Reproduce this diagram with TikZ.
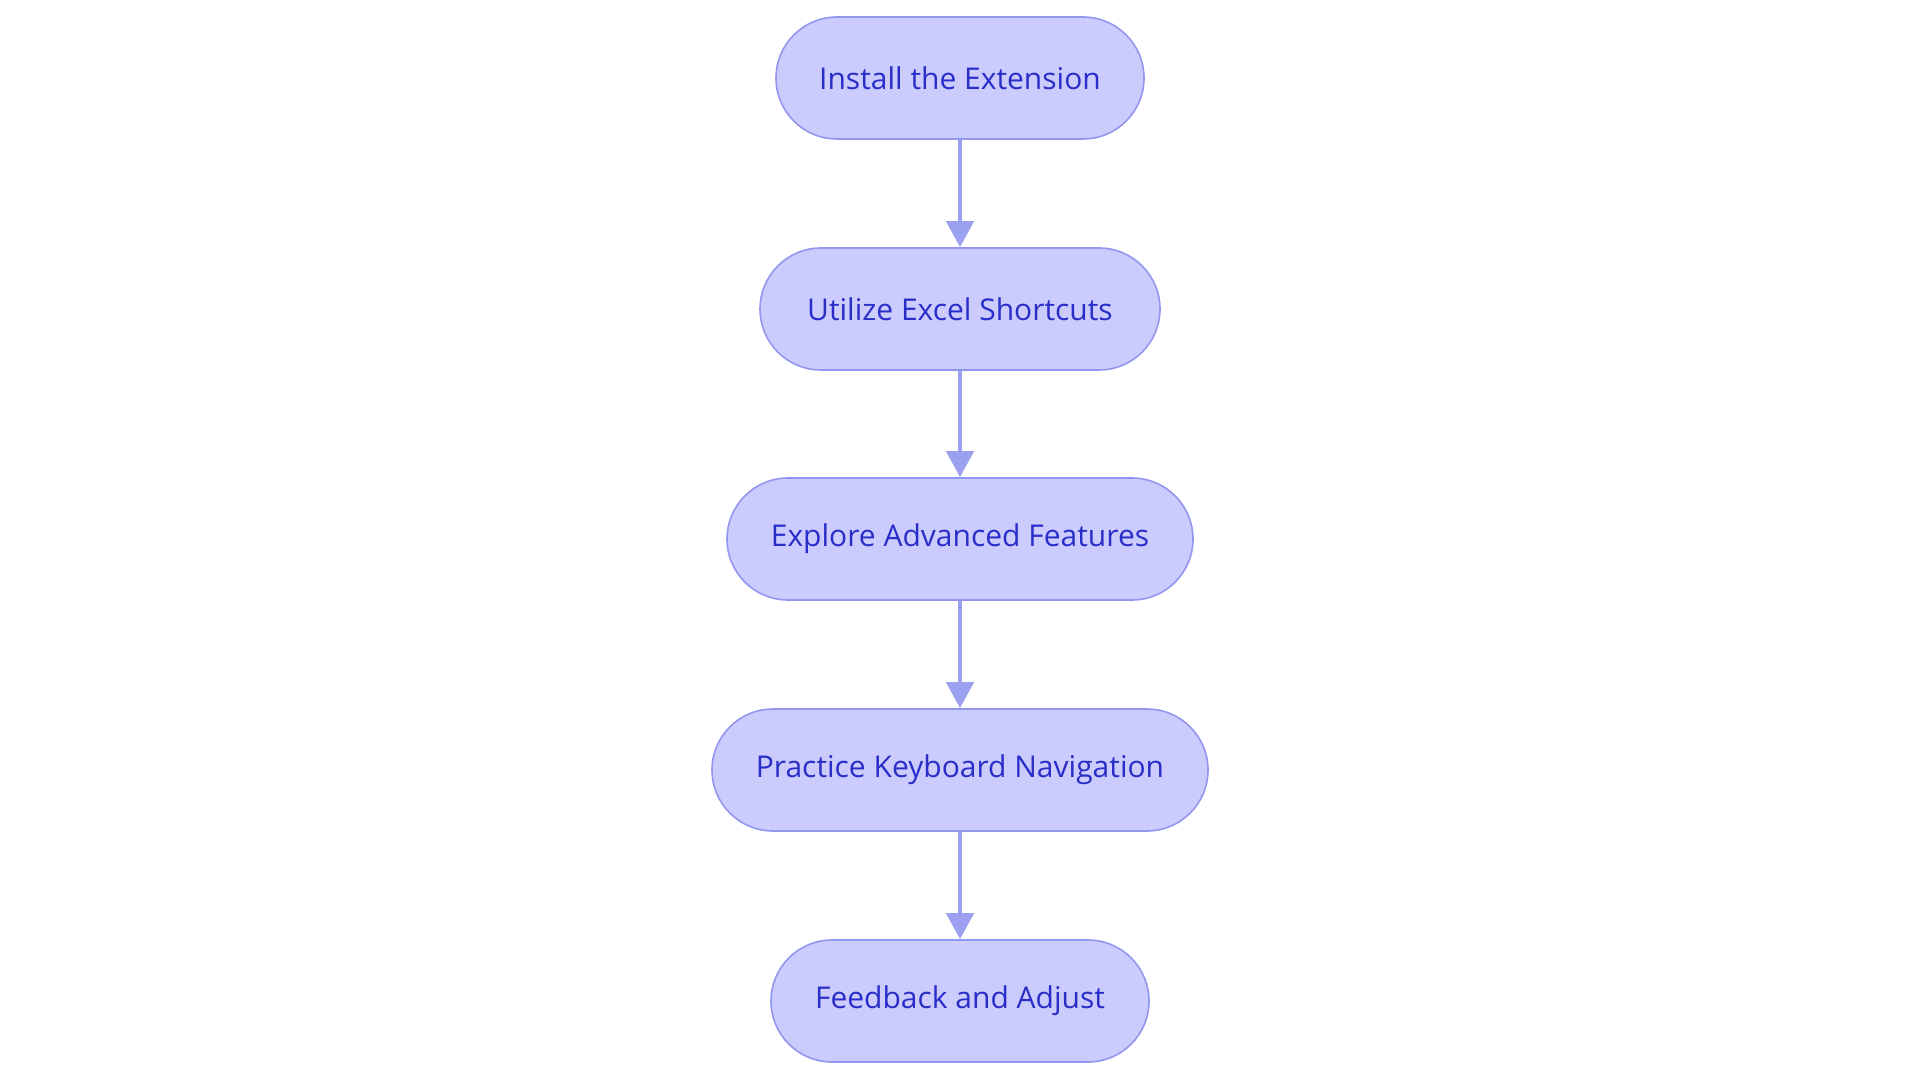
\documentclass[tikz,border=0pt]{standalone}
\usepackage{fontspec}
\setmainfont{Open Sans}
\usetikzlibrary{arrows.meta}
\definecolor{nodefill}{RGB}{203,203,253}
\definecolor{nodeedge}{RGB}{147,150,238}
\definecolor{nodetext}{RGB}{42,46,200}
\definecolor{linkcol}{RGB}{155,160,240}
\tikzset{
  stepbox/.style={draw=nodeedge, line width=1.6pt, fill=nodefill, text=nodetext,
    rounded corners=61pt, minimum height=122pt, inner sep=0pt,
    font=\fontsize{30}{36}\selectfont},
  link/.style={draw=linkcol, line width=4.5pt, -{Triangle[length=26pt,width=27pt]}}
}
\begin{document}
\begin{tikzpicture}[x=1pt,y=-1pt]
\useasboundingbox (0,0) rectangle (1920,1083);
\node[stepbox, minimum width=368pt] (a) at (960,78) {Install the Extension};
\node[stepbox, minimum width=400pt] (b) at (960,309) {Utilize Excel Shortcuts};
\node[stepbox, minimum width=466pt] (c) at (960,539) {Explore Advanced Features};
\node[stepbox, minimum width=496pt] (d) at (960,770) {Practice Keyboard Navigation};
\node[stepbox, minimum width=378pt] (e) at (960,1001) {Feedback and Adjust};
\draw[link] (a) -- (b);
\draw[link] (b) -- (c);
\draw[link] (c) -- (d);
\draw[link] (d) -- (e);
\end{tikzpicture}
\end{document}
